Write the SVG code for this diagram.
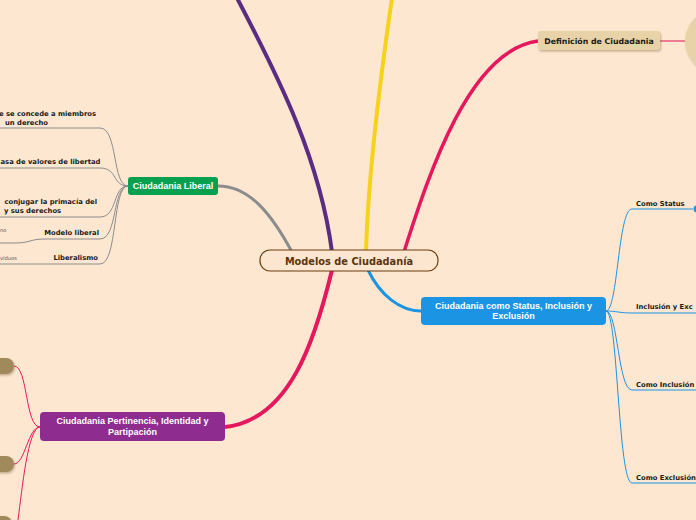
<svg xmlns="http://www.w3.org/2000/svg" width="696" height="520" viewBox="0 0 696 520">
<style>
.lbl{font-family:"DejaVu Sans",Verdana,sans-serif;font-weight:bold;font-size:6.8px;fill:#1a1a1a}
.sm{font-family:"DejaVu Sans",Verdana,sans-serif;font-size:5.2px;fill:#555}
.wt{font-family:"Liberation Sans",Arial,sans-serif;font-weight:bold;font-size:9px;fill:#fff;text-anchor:middle}
.gr{fill:none;stroke:#8c8c8c;stroke-width:1}
.pk{fill:none;stroke:#e8185a;stroke-width:1}
.bl{fill:none;stroke:#1b95e3;stroke-width:1}
</style>
<defs>
<filter id="sh" x="-20%" y="-30%" width="140%" height="170%">
<feDropShadow dx="1" dy="1.5" stdDeviation="1" flood-color="#7a6040" flood-opacity="0.45"/>
</filter>
</defs>
<rect width="696" height="520" fill="#fde7d1"/>
<g id="connectors">
<path d="M237 -2 C280 80 320 160 332 252" fill="none" stroke="#5b2d82" stroke-width="4"/>
<path d="M392 -2 C380 80 368 180 366 252" fill="none" stroke="#f6d21c" stroke-width="4"/>
<path d="M218 186 C250 186 272 215 292 252" fill="none" stroke="#8c8c8c" stroke-width="3"/>
<path d="M404 252 C430 170 470 50 538 41" fill="none" stroke="#e5185d" stroke-width="3.5"/>
<path d="M332 270 C315 340 290 420 225 427" fill="none" stroke="#e5185d" stroke-width="4"/>
<path d="M368 270 C380 295 400 311 421 311" fill="none" stroke="#1b95e3" stroke-width="3"/>
<path d="M660 41 L686 41" fill="none" stroke="#e8587e" stroke-width="1.5"/>
<path class="gr" d="M128 186 C112 186 118 128 100 128 L0 128"/>
<path class="gr" d="M128 186 C112 186 118 168 100 168 L0 168"/>
<path class="gr" d="M128 186 C112 186 118 217 100 217 L0 217"/>
<path class="gr" d="M128 186 C112 186 118 239 100 239 L45 239 C30 239 30 243 15 243 L0 243"/>
<path class="gr" d="M128 186 C112 186 118 264 100 264 L0 264"/>
<path class="pk" d="M40 427 C25 427 28 366 14 366"/>
<path class="pk" d="M40 427 C28 427 25 464 14 464"/>
<path class="pk" d="M40 427 C28 427 22 490 18 520"/>
<path class="bl" d="M606 311 C618 311 618 209 632 209 L693 209"/>
<path class="bl" d="M606 311 C616 311 620 313 632 313 L696 313"/>
<path class="bl" d="M606 311 C618 311 618 390 632 390 L696 390"/>
<path class="bl" d="M606 311 C618 311 618 483 632 483 L696 483"/>
</g>
<g id="center">
<rect x="260" y="250" width="178" height="21" rx="10" fill="#fde6cf" stroke="#6b3d0f" stroke-width="1.2"/>
<text x="349" y="264.5" text-anchor="middle" style="font-family:'DejaVu Sans',Verdana,sans-serif;font-weight:bold;font-size:9.8px;fill:#5a3510">Modelos de Ciudadanía</text>
</g>
<g id="liberal">
<rect x="128" y="177" width="90" height="18" rx="3" fill="#07a04f"/>
<text class="wt" x="173" y="189.2">Ciudadania Liberal</text>
</g>
<g id="definicion">
<rect x="538" y="31" width="122" height="19" rx="3" fill="#e8d3a8" filter="url(#sh)"/>
<text class="lbl" x="599" y="43.5" text-anchor="middle" style="font-size:7.8px">Definición de Ciudadania</text>
</g>
<g id="circulo">
<circle cx="716" cy="41" r="31" fill="#e8d3a8" filter="url(#sh)"/>
</g>
<g id="status">
<rect x="421" y="297" width="185" height="28" rx="4" fill="#1b95e3"/>
<text class="wt" x="513.5" y="308.5">Ciudadania como Status, Inclusión y</text>
<text class="wt" x="513.5" y="319">Exclusión</text>
</g>
<g id="pertinencia">
<rect x="40" y="412" width="185" height="29" rx="4" fill="#8f2c8f"/>
<text class="wt" x="132.5" y="424">Ciudadania Pertinencia, Identidad y</text>
<text class="wt" x="132.5" y="435">Partipación</text>
</g>
<g id="pills">
<rect x="-50" y="358" width="64" height="16" rx="8" fill="#a08a5c" filter="url(#sh)"/>
<rect x="-50" y="456" width="64" height="16" rx="8" fill="#a08a5c" filter="url(#sh)"/>
<rect x="-50" y="516" width="62" height="16" rx="8" fill="#a08a5c" filter="url(#sh)"/>
</g>
<g id="lib-children">
<text class="lbl" x="96" y="116" text-anchor="end">e se concede a miembros</text>
<text class="lbl" x="5" y="124.5">un derecho</text>
<text class="lbl" x="0.5" y="163.5">asa de valores de libertad</text>
<text class="lbl" x="97" y="203.5" text-anchor="end">conjugar la primacía del</text>
<text class="lbl" x="4" y="212.5">y sus derechos</text>
<text class="lbl" x="99" y="234.5" text-anchor="end">Modelo liberal</text>
<text class="sm" x="0" y="231.5">no</text>
<text class="lbl" x="98" y="259.5" text-anchor="end">Liberalismo</text>
<text class="sm" x="0" y="260">viduos</text>
</g>
<g id="status-children">
<text class="lbl" x="636" y="205.5">Como Status</text>
<circle cx="697" cy="209" r="3.5" fill="#1b95e3"/>
<text class="lbl" x="636" y="308.5">Inclusión y Exc</text>
<text class="lbl" x="636" y="386.5">Como Inclusión</text>
<text class="lbl" x="636" y="479.5">Como Exclusión</text>
</g>
</svg>
